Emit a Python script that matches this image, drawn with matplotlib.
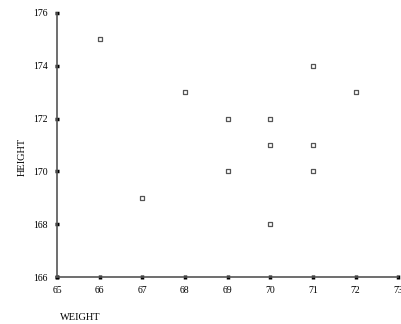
import matplotlib.pyplot as plt

weight = [66, 67, 68, 69, 69, 70, 70, 70, 71, 71, 71, 72]
height = [175, 169, 173, 172, 170, 172, 171, 168, 174, 171, 170, 173]

x_ticks = [65, 66, 67, 68, 69, 70, 71, 72, 73]
y_ticks = [166, 168, 170, 172, 174, 176]

plt.rcParams["font.family"] = ["Liberation Serif", "DejaVu Serif"]

fig = plt.figure(figsize=(4.01, 3.24), dpi=100)
ax = fig.add_axes([0.142, 0.145, 0.851, 0.815])

ax.scatter(weight, height, marker="s", s=10, facecolors="white",
           edgecolors="#555555", linewidths=0.9, zorder=3, clip_on=False)

ax.set_xlim(65, 73)
ax.set_ylim(166, 176)
ax.set_xticks(x_ticks)
ax.set_yticks(y_ticks)

for side in ["top", "right"]:
    ax.spines[side].set_visible(False)
for side in ["left", "bottom"]:
    ax.spines[side].set_color("#555555")
    ax.spines[side].set_linewidth(1.2)

ax.tick_params(direction="inout", length=3, width=2.5, color="black",
               labelsize=7, pad=5)

fig.text(0.055, 0.515, "HEIGHT", rotation=90, ha="center", va="center", fontsize=7.5)
fig.text(0.2, 0.02, "WEIGHT", ha="center", va="center", fontsize=7.5)

fig.savefig("out.png", dpi=100)
